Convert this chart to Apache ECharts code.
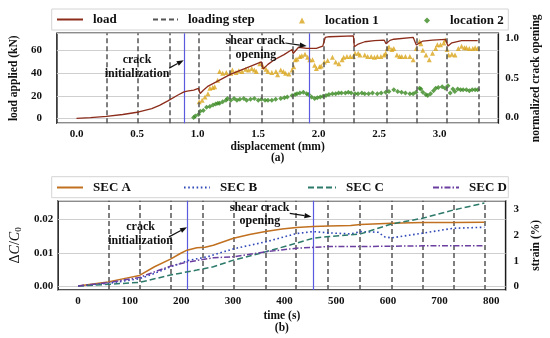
<!DOCTYPE html>
<html><head><meta charset="utf-8">
<script src="https://cdn.jsdelivr.net/npm/echarts@6/dist/echarts.min.js"></script>
<style>html,body{margin:0;padding:0;background:#fff}#c{width:550px;height:338px}</style>
</head><body><div id="c"></div>
<script>
// ---------- data (top panel) ----------
const topSteps = [0.254,0.51,0.766,1.014,1.27,1.526,1.79,2.038,2.294,2.558,2.806,3.062,3.318];
const topCracks = [0.888,1.915];
const loadX = [0.0,0.115,0.248,0.382,0.515,0.622,0.686,0.755,0.835,0.888,0.915,0.968,1.008,1.022,1.048,1.088,1.155,1.275,1.395,1.528,1.542,1.582,1.635,1.715,1.782,1.790,1.835,1.902,1.982,2.035,2.056,2.088,2.288,2.296,2.328,2.382,2.462,2.542,2.558,2.590,2.622,2.782,2.808,2.862,2.942,3.048,3.070,3.102,3.182,3.315];
const loadY = [0.3,0.9,2.0,3.6,5.8,8.8,11.6,15.5,20.5,23.4,24.0,24.9,26.4,22.0,24.9,28.5,32.2,39.0,44.0,49.7,43.5,47.5,51.5,56.0,60.5,57.0,62.5,61.5,61.5,63.5,71.2,71.7,72.5,62.9,65.3,67.3,68.2,68.8,65.5,68.5,69.5,71.2,64.4,67.9,68.8,69.4,63.5,66.4,68.2,68.2];
const loc1X = [1.014,1.038,1.062,1.086,1.102,1.126,1.142,1.166,1.182,1.208,1.238,1.275,1.288,1.318,1.342,1.368,1.398,1.422,1.448,1.470,1.486,1.515,1.542,1.566,1.582,1.614,1.648,1.662,1.688,1.710,1.728,1.755,1.782,1.795,1.808,1.822,1.846,1.862,1.888,1.910,1.928,1.950,1.968,1.982,2.008,2.022,2.048,2.075,2.115,2.142,2.168,2.195,2.208,2.235,2.262,2.288,2.302,2.328,2.342,2.382,2.406,2.435,2.462,2.486,2.515,2.542,2.555,2.568,2.582,2.606,2.622,2.648,2.670,2.688,2.718,2.755,2.782,2.808,2.835,2.846,2.862,2.888,2.915,2.942,2.968,2.982,3.008,3.035,3.048,3.062,3.075,3.102,3.128,3.155,3.182,3.206,3.222,3.246,3.275,3.294,3.315];
const loc1Y = [0.20,0.22,0.26,0.30,0.37,0.38,0.39,0.47,0.58,0.56,0.57,0.56,0.60,0.57,0.59,0.58,0.61,0.60,0.62,0.60,0.58,0.68,0.64,0.61,0.58,0.57,0.58,0.54,0.60,0.58,0.56,0.55,0.60,0.64,0.73,0.74,0.77,0.78,0.80,0.76,0.73,0.73,0.66,0.62,0.64,0.65,0.70,0.72,0.76,0.70,0.68,0.73,0.76,0.77,0.77,0.77,0.81,0.81,0.79,0.79,0.77,0.77,0.76,0.77,0.77,0.79,0.81,0.87,0.89,0.86,0.87,0.79,0.77,0.77,0.77,0.77,0.73,0.87,0.96,0.93,0.85,0.79,0.73,0.81,0.87,0.92,0.92,0.94,0.98,0.86,0.79,0.80,0.79,0.87,0.90,0.88,0.88,0.87,0.87,0.88,0.87];
const loc2X = [0.968,0.982,1.008,1.022,1.048,1.075,1.102,1.128,1.150,1.168,1.182,1.208,1.235,1.248,1.275,1.302,1.326,1.350,1.382,1.406,1.438,1.470,1.502,1.528,1.558,1.582,1.614,1.646,1.688,1.718,1.742,1.782,1.806,1.822,1.846,1.875,1.902,1.918,1.942,1.968,1.990,2.014,2.038,2.062,2.086,2.115,2.142,2.166,2.190,2.222,2.246,2.270,2.302,2.326,2.358,2.382,2.414,2.446,2.486,2.518,2.555,2.582,2.622,2.654,2.686,2.718,2.755,2.782,2.806,2.835,2.846,2.862,2.886,2.902,2.926,2.950,2.968,2.990,3.022,3.046,3.070,3.088,3.110,3.126,3.150,3.174,3.195,3.222,3.246,3.270,3.294,3.315];
const loc2Y = [0.00,0.02,0.04,0.08,0.09,0.13,0.14,0.16,0.17,0.18,0.18,0.20,0.22,0.24,0.22,0.24,0.22,0.23,0.24,0.22,0.23,0.24,0.22,0.23,0.22,0.22,0.22,0.23,0.24,0.25,0.26,0.28,0.29,0.30,0.31,0.32,0.30,0.29,0.26,0.24,0.25,0.26,0.27,0.28,0.29,0.30,0.30,0.31,0.31,0.31,0.32,0.31,0.30,0.30,0.31,0.30,0.30,0.31,0.30,0.31,0.32,0.33,0.35,0.33,0.32,0.31,0.30,0.30,0.32,0.37,0.36,0.32,0.29,0.28,0.30,0.34,0.37,0.38,0.39,0.37,0.40,0.31,0.36,0.33,0.36,0.35,0.35,0.35,0.34,0.35,0.35,0.35];
const topXTicks = ['0.0','0.5','1.0','1.5','2.0','2.5','3.0'];

// ---------- data (bottom panel) ----------
const botSteps = [59,120,180,241,301,363,421,483,545,607,667,728,787];
const botCracks = [211,455];
const secAT = [0,58,91,119,148,179,198,211,230,246,262,301,332,363,395,423,455,486,528,547,607,667,727,787];
const secAV = [0.0000,0.0012,0.0023,0.0032,0.0058,0.0081,0.0098,0.0108,0.0115,0.0117,0.0123,0.0144,0.0155,0.0164,0.0172,0.0176,0.0179,0.0181,0.0182,0.0185,0.0189,0.0191,0.0191,0.0192];
const secBT = [0,58,119,148,179,198,211,230,250,301,363,423,455,486,528,547,581,594,607,667,727,787];
const secBV = [0.0000,0.0008,0.0022,0.0038,0.0058,0.0068,0.0076,0.0082,0.0088,0.0112,0.0133,0.0158,0.0164,0.0160,0.0157,0.0164,0.0162,0.0148,0.0145,0.0159,0.0174,0.0177];
const secCT = [0,58,119,179,230,262,301,363,423,455,486,547,607,667,727,787];
const secCV = [0.0000,0.0005,0.0011,0.0033,0.0048,0.0058,0.0078,0.0103,0.0129,0.0144,0.0149,0.0157,0.0187,0.0204,0.0229,0.0250];
const secDT = [0,58,119,179,211,262,301,363,423,486,547,667,787];
const secDV = [0.0000,0.0010,0.0026,0.0060,0.0072,0.0085,0.0088,0.0103,0.0114,0.0119,0.0119,0.0121,0.0121];

const zip = (a, b) => a.map((v, i) => [v, b[i]]);
const FONT = 'Liberation Serif';
const BLACK = '#111';
const tstyle = {fontFamily: FONT, fontWeight: 'bold', fontSize: 11, color: BLACK};

function vline(vals, color, type, width, xi, yi, z) {
  return {
    type: 'line', data: [], xAxisIndex: xi, yAxisIndex: yi, silent: true, z: z,
    markLine: {
      silent: true, symbol: ['none','none'], animation: false, label: {show: false},
      lineStyle: {color: color, type: type, width: width},
      emphasis: {disabled: true},
      data: vals.map(v => ({xAxis: v}))
    }
  };
}

const chart = echarts.init(document.getElementById('c'), null, {renderer: 'canvas'});

const legendBase = {padding: 0, itemHeight: 8, textStyle: Object.assign({}, tstyle, {fontSize: 13}), selectedMode: false};
function lg(name, left, top, w, extra) {
  return Object.assign({}, legendBase, {data: [name], left: left, top: top, itemWidth: w}, extra || {});
}
const lineLg = {itemHeight: 4, itemStyle: {color: 'rgba(0,0,0,0)', borderColor: 'rgba(0,0,0,0)', borderWidth: 0},
  textStyle: Object.assign({}, tstyle, {fontSize: 13, padding: [0,0,0,5]})};
const dotLg = {itemHeight: 6, textStyle: Object.assign({}, tstyle, {fontSize: 13, padding: [0,0,0,15]})};

const option = {
  animation: false,
  backgroundColor: '#fff',
  grid: [
    {left: 51.7, right: 41.7, top: 33.3, height: 90, show: true, borderColor: '#1a1a1a', borderWidth: 1.5, backgroundColor: 'transparent'},
    {left: 51.7, right: 41.7, top: 200.7, height: 89.3, show: true, borderColor: '#1a1a1a', borderWidth: 1.5, backgroundColor: 'transparent'}
  ],
  legend: [
    lg('load', 56, 13, 26, lineLg),
    lg('loading step', 152, 13, 25, lineLg),
    lg('location 1', 299, 14, 6, dotLg),
    lg('location 2', 424, 14, 6, dotLg),
    lg('SEC A', 56, 181, 26, lineLg),
    lg('SEC B', 183, 181, 26, lineLg),
    lg('SEC C', 307, 181, 28, lineLg),
    lg('SEC D', 432, 181, 26, lineLg)
  ],
  xAxis: [
    {type: 'value', gridIndex: 0, min: -0.162, max: 3.486, splitNumber: 7,
     name: 'displacement (mm)\n(a)', nameLocation: 'middle', nameGap: 18,
     nameTextStyle: Object.assign({}, tstyle, {fontSize: 11.5, lineHeight: 11}),
     axisLine: {show: false}, axisTick: {show: false}, splitLine: {show: false},
     axisLabel: Object.assign({}, tstyle, {margin: 5, showMinLabel: false, showMaxLabel: false,
       formatter: v => topXTicks.indexOf(v.toFixed(1)) >= 0 && Math.abs(v*2 - Math.round(v*2)) < 1e-6 ? v.toFixed(1) : ''})},
    {type: 'value', gridIndex: 1, min: -38.6, max: 828, splitNumber: 8,
     name: 'time (s)\n(b)', nameLocation: 'middle', nameGap: 20,
     nameTextStyle: Object.assign({}, tstyle, {fontSize: 11.5, lineHeight: 12}),
     axisLine: {show: false}, axisTick: {show: false}, splitLine: {show: false},
     axisLabel: Object.assign({}, tstyle, {margin: 6, showMinLabel: false, showMaxLabel: false,
       formatter: v => String(Math.round(v))})}
  ],
  yAxis: [
    {type: 'value', gridIndex: 0, position: 'left', min: -4.1, max: 74.7, splitNumber: 4,
     name: 'load applied (kN)', nameLocation: 'middle', nameGap: 21, nameRotate: 90,
     nameTextStyle: Object.assign({}, tstyle, {fontSize: 11.5}),
     axisLine: {show: false}, axisTick: {show: false},
     splitLine: {show: true, lineStyle: {color: '#cfcfcf', width: 1}},
     axisLabel: Object.assign({}, tstyle, {margin: 15, showMinLabel: false, showMaxLabel: false,
       formatter: v => String(Math.round(v))})},
    {type: 'value', gridIndex: 0, position: 'right', min: -0.072, max: 1.063, splitNumber: 2,
     name: 'normalized crack opening', nameLocation: 'middle', nameGap: 24, nameRotate: 90,
     nameTextStyle: Object.assign({}, tstyle, {fontSize: 11.5}),
     axisLine: {show: false}, axisTick: {show: false}, splitLine: {show: false},
     axisLabel: Object.assign({}, tstyle, {margin: 7, showMinLabel: false, showMaxLabel: false,
       formatter: v => v.toFixed(1)})},
    {type: 'value', gridIndex: 1, position: 'left', min: -0.0012, max: 0.0257, splitNumber: 3,
     name: '{n|Δ}{i|C}{n|/}{i|C}{s|0}', nameLocation: 'middle', nameGap: 31, nameRotate: 90,
     nameTextStyle: {fontFamily: FONT, fontSize: 14, color: BLACK,
       rich: {n: {fontFamily: FONT, fontSize: 14, color: BLACK},
              i: {fontFamily: FONT, fontSize: 14, fontStyle: 'italic', color: BLACK},
              s: {fontFamily: FONT, fontSize: 9, color: BLACK, padding: [7,0,0,0]}}},
     axisLine: {show: false}, axisTick: {show: false},
     splitLine: {show: true, lineStyle: {color: '#cfcfcf', width: 1}},
     axisLabel: Object.assign({}, tstyle, {margin: 5, showMinLabel: false, showMaxLabel: false,
       formatter: v => v.toFixed(2)})},
    {type: 'value', gridIndex: 1, position: 'right', min: -0.13, max: 3.32, splitNumber: 3,
     name: 'strain (%)', nameLocation: 'middle', nameGap: 18, nameRotate: 90,
     nameTextStyle: Object.assign({}, tstyle, {fontSize: 11.5}),
     axisLine: {show: false}, axisTick: {show: false}, splitLine: {show: false},
     axisLabel: Object.assign({}, tstyle, {margin: 8, showMinLabel: false, showMaxLabel: false,
       formatter: v => String(Math.round(v))})}
  ],
  series: [
    Object.assign(vline(topSteps, '#555', [5,3], 1.5, 0, 0, 1), {name: 'loading step',
      lineStyle: {color: '#555', type: [5,3], width: 1.5}, itemStyle: {color: '#555'}, symbol: 'none'}),
    vline(topCracks, '#5a5ae0', 'solid', 1.2, 0, 0, 2),
    {name: 'load', type: 'line', xAxisIndex: 0, yAxisIndex: 0, data: zip(loadX, loadY), symbol: 'none', z: 5,
     lineStyle: {color: '#8c2d1c', width: 1.3}, itemStyle: {color: '#8c2d1c'}},
    {name: 'location 1', type: 'scatter', xAxisIndex: 0, yAxisIndex: 1, data: zip(loc1X, loc1Y), symbol: 'triangle', symbolSize: 5, z: 4,
     itemStyle: {color: '#d9a51c'}},
    {name: 'location 2', type: 'scatter', xAxisIndex: 0, yAxisIndex: 1, data: zip(loc2X, loc2Y), symbol: 'diamond', symbolSize: 5, z: 4,
     itemStyle: {color: '#3a8a22'}},
    vline(botSteps, '#555', [5,3], 1.5, 1, 2, 1),
    vline(botCracks, '#5a5ae0', 'solid', 1.2, 1, 2, 2),
    {name: 'SEC A', type: 'line', xAxisIndex: 1, yAxisIndex: 2, data: zip(secAT, secAV), symbol: 'none', z: 5,
     lineStyle: {color: '#c0701f', width: 1.5}, itemStyle: {color: '#c0701f'}},
    {name: 'SEC B', type: 'line', xAxisIndex: 1, yAxisIndex: 2, data: zip(secBT, secBV), symbol: 'none', z: 5,
     lineStyle: {color: '#3048b8', width: 1.6, type: [1.6,2.6]}, itemStyle: {color: '#3048b8'}},
    {name: 'SEC C', type: 'line', xAxisIndex: 1, yAxisIndex: 2, data: zip(secCT, secCV), symbol: 'none', z: 5,
     lineStyle: {color: '#2d7a6b', width: 1.5, type: [6,3]}, itemStyle: {color: '#2d7a6b'}},
    {name: 'SEC D', type: 'line', xAxisIndex: 1, yAxisIndex: 2, data: zip(secDT, secDV), symbol: 'none', z: 5,
     lineStyle: {color: '#6b3fa0', width: 1.5, type: [6,2,1.5,2]}, itemStyle: {color: '#6b3fa0'}}
  ]
};
chart.setOption(option);

// ---------- annotations (placed in data coordinates) ----------
const annText = [
  {g: 0, t: 'crack', x: 0.50, y: 51.2}, {g: 0, t: 'initialization', x: 0.50, y: 39.0},
  {g: 0, t: 'shear crack', x: 1.478, y: 67.9}, {g: 0, t: 'opening', x: 1.482, y: 56.2},
  {g: 1, t: 'crack', x: 121, y: 0.0178}, {g: 1, t: 'initialization', x: 121, y: 0.0136},
  {g: 1, t: 'shear crack', x: 351.5, y: 0.0236}, {g: 1, t: 'opening', x: 352, y: 0.0196}
];
const annArrow = [
  {g: 0, a: [0.766, 44.2], b: [0.886, 51.2]}, {g: 0, a: [1.726, 66.2], b: [1.902, 63.5]},
  {g: 1, a: [176, 0.0148], b: [211, 0.0177]}, {g: 1, a: [410, 0.0219], b: [452, 0.0209]}
];
const toPx = (g, p) => chart.convertToPixel(g === 0 ? {xAxisIndex: 0, yAxisIndex: 0} : {xAxisIndex: 1, yAxisIndex: 2}, p);
const gr = [
  {type: 'rect', shape: {x: 51.7, y: 9, width: 456.6, height: 21}, style: {fill: 'rgba(255,255,255,0.8)', stroke: '#d4d4d4', lineWidth: 1}, z: -1, silent: true},
  {type: 'rect', shape: {x: 51.7, y: 176.7, width: 456.6, height: 21}, style: {fill: 'rgba(255,255,255,0.8)', stroke: '#d4d4d4', lineWidth: 1}, z: -1, silent: true}
];
annText.forEach(a => {
  const p = toPx(a.g, [a.x, a.y]);
  gr.push({type: 'text', x: p[0], y: p[1], z: 50, silent: true,
    style: {text: a.t, fill: BLACK, font: 'bold 12px "Liberation Serif"', align: 'center', verticalAlign: 'middle'}});
});
annArrow.forEach(a => {
  const p = toPx(a.g, a.a), q = toPx(a.g, a.b);
  const ang = Math.atan2(q[1] - p[1], q[0] - p[0]);
  const L = 7, W = 2.6;
  const bx = q[0] - L * Math.cos(ang), by = q[1] - L * Math.sin(ang);
  gr.push({type: 'line', z: 50, silent: true, shape: {x1: p[0], y1: p[1], x2: bx, y2: by}, style: {stroke: BLACK, lineWidth: 1.2}});
  gr.push({type: 'polygon', z: 50, silent: true, shape: {points: [
    [q[0], q[1]],
    [bx + W * Math.sin(ang), by - W * Math.cos(ang)],
    [bx - W * Math.sin(ang), by + W * Math.cos(ang)]]}, style: {fill: BLACK}});
});
chart.setOption({graphic: gr});
</script></body></html>
